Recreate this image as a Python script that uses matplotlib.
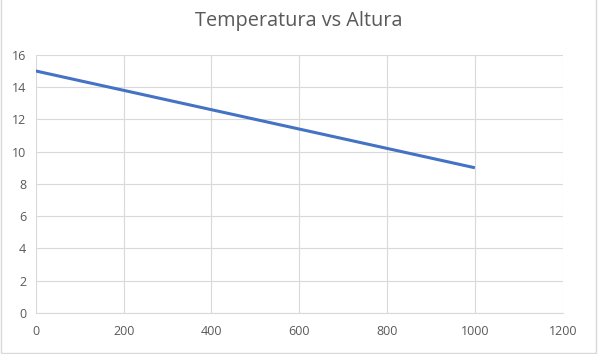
import matplotlib.pyplot as plt
from matplotlib.patches import Rectangle

# Data
altura = [0, 200, 400, 600, 800, 1000]
temperatura = [15, 13.8, 12.6, 11.4, 10.2, 9]
xticks = [0, 200, 400, 600, 800, 1000, 1200]
yticks = [0, 2, 4, 6, 8, 10, 12, 14, 16]

plt.rcParams['font.family'] = ['Open Sans', 'DejaVu Sans']

fig = plt.figure(figsize=(5.98, 3.54), dpi=100)
ax = fig.add_axes([0.060, 0.116, 0.881, 0.729])

ax.plot(altura, temperatura, color='#4472C4', linewidth=2.2, solid_capstyle='butt')

ax.set_xlim(0, 1200)
ax.set_ylim(0, 16)
ax.set_xticks(xticks)
ax.set_yticks(yticks)
ax.grid(True, color='#D9D9D9', linewidth=0.8)
ax.set_axisbelow(True)
for side in ['top', 'right', 'left']:
    ax.spines[side].set_visible(False)
ax.spines['bottom'].set_color('#D9D9D9')
ax.tick_params(length=0, labelsize=9, colors='#595959', pad=9)
ax.tick_params(axis='y', pad=7)

fig.text(0.5, 0.942, 'Temperatura vs Altura', ha='center', va='center',
         fontsize=14.3, color='#595959')

# chart frame
fig.patches.append(Rectangle((0.001, 0.003), 0.996, 1.2, transform=fig.transFigure,
                             fill=False, edgecolor='#D9D9D9', linewidth=1))

fig.savefig('out.png', dpi=100)
